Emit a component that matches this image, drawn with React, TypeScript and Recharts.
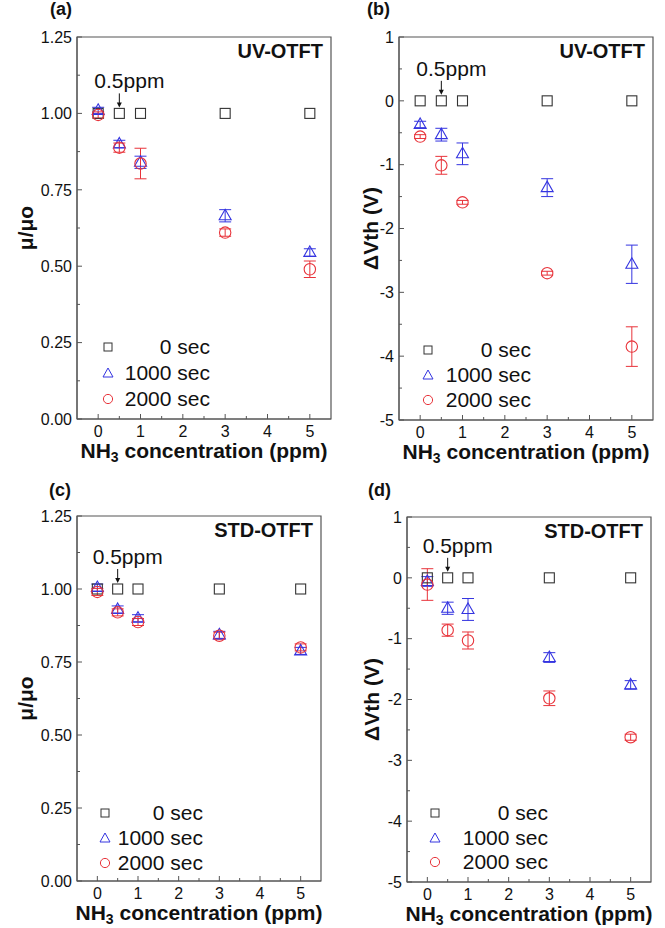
import React from "react";
import { ScatterChart, Scatter, XAxis, YAxis, ErrorBar, ReferenceArea, ReferenceDot, Legend } from "recharts";

const FONT = "Arial, 'Liberation Sans', sans-serif";
const GRAY = "#555";
const SQ = "#333";
const BLUE = "#3434e0";
const RED = "#e8333a";

const concentrations = [0, 0.5, 1, 3, 5];
const seriesNames = ["0 sec", "1000 sec", "2000 sec"];
const xMajor = [0, 1, 2, 3, 4, 5];
const xMinor = [0.5, 1.5, 2.5, 3.5, 4.5];
const muMajor = [0, 0.25, 0.5, 0.75, 1, 1.25];
const muMinor = [0.125, 0.375, 0.625, 0.875, 1.125];
const vthMajor = [-5, -4, -3, -2, -1, 0, 1];
const vthMinor = [-4.5, -3.5, -2.5, -1.5, -0.5, 0.5];

// (a) UV-OTFT, mobility ratio
const uvMu0 = [1, 1, 1, 1, 1];
const uvMu1000 = [1.01, 0.9, 0.84, 0.665, 0.545];
const uvMu1000Err = [0.01, 0.012, 0.02, 0.02, 0.012];
const uvMu2000 = [0.995, 0.888, 0.836, 0.61, 0.49];
const uvMu2000Err = [0.01, 0.015, 0.05, 0.012, 0.027];

// (b) UV-OTFT, threshold shift
const uvVth0 = [0, 0, 0, 0, 0];
const uvVth1000 = [-0.37, -0.53, -0.83, -1.36, -2.56];
const uvVth1000Err = [0.05, 0.1, 0.17, 0.14, 0.3];
const uvVth2000 = [-0.56, -1.01, -1.59, -2.7, -3.85];
const uvVth2000Err = [0.03, 0.14, 0.03, 0.03, 0.31];

// (c) STD-OTFT, mobility ratio
const stdMu0 = [1, 1, 1, 1, 1];
const stdMu1000 = [1.005, 0.93, 0.9, 0.843, 0.788];
const stdMu1000Err = [0.012, 0.012, 0.012, 0.012, 0.012];
const stdMu2000 = [0.99, 0.92, 0.887, 0.84, 0.8];
const stdMu2000Err = [0.012, 0.012, 0.012, 0.012, 0.012];

// (d) STD-OTFT, threshold shift
const stdVth0 = [0, 0, 0, 0, 0];
const stdVth1000 = [-0.06, -0.5, -0.52, -1.31, -1.76];
const stdVth1000Err = [0.08, 0.1, 0.18, 0.08, 0.07];
const stdVth2000 = [-0.11, -0.86, -1.03, -1.98, -2.62];
const stdVth2000Err = [0.26, 0.1, 0.14, 0.12, 0.05];

const rows = (ys: number[], errs?: number[]) =>
  concentrations.map((x, i) => ({ x, y: ys[i], e: errs ? errs[i] : 0 }));

const Square = (p: any) => (
  <rect x={p.cx - 5} y={p.cy - 5} width={10} height={10} fill="none" stroke={SQ} strokeWidth={1.1} />
);
const Triangle = (p: any) => (
  <path d={`M${p.cx},${p.cy - 6.5}L${p.cx + 6},${p.cy + 4}L${p.cx - 6},${p.cy + 4}Z`} fill="none" stroke={BLUE} strokeWidth={1.1} />
);
const Circle = (p: any) => (
  <circle cx={p.cx} cy={p.cy} r={5.7} fill="none" stroke={RED} strokeWidth={1.1} />
);

const legendIcon = (i: number) => {
  if (i === 0) return <rect x={4} y={4} width={8} height={8} fill="none" stroke={SQ} />;
  if (i === 1) return <path d="M8,3L13,12L3,12Z" fill="none" stroke={BLUE} />;
  return <circle cx={8} cy={8} r={4.6} fill="none" stroke={RED} />;
};

const ppmMark = (p: any) => (
  <g>
    <text x={p.cx - 25} y={p.cy - 25} fontSize={21} fontFamily={FONT} fill="#111">0.5ppm</text>
    <line x1={p.cx} y1={p.cy - 20} x2={p.cx} y2={p.cy - 10} stroke="#111" strokeWidth={1} />
    <path d={`M${p.cx - 2.5},${p.cy - 11}L${p.cx + 2.5},${p.cy - 11}L${p.cx},${p.cy - 6}Z`} fill="#111" />
  </g>
);

const xTitle = (p: any) => {
  const vb = p.viewBox;
  return (
    <text x={vb.x + vb.width / 2} y={vb.y + 39} textAnchor="middle" fontSize={21} fontWeight="bold" fontFamily={FONT} fill="#111">
      NH<tspan dy={4} fontSize={14}>3</tspan>
      <tspan dy={-4}> concentration (ppm)</tspan>
    </text>
  );
};

type PanelProps = {
  left: number;
  top: number;
  width: number;
  height: number;
  margin: { top: number; right: number; bottom: number; left: number };
  yWidth: number;
  tag: string;
  tagPos: { left: number; top: number };
  device: string;
  yLabel: string;
  yLabelDx: number;
  yDomain: [number, number];
  yMajor: number[];
  yMinor: number[];
  fmt: (v: number) => string;
  s0: number[];
  s1: number[];
  s1Err: number[];
  s2: number[];
  s2Err: number[];
  ppmY: number;
  legend: { left: number; top: number; textWidth: number; row: number };
};

function Panel(props: PanelProps) {
  const majorSet = new Set(props.yMajor);
  const yTicks = [...props.yMajor, ...props.yMinor].sort((a, b) => a - b);
  const xTicks = [...xMajor, ...xMinor].sort((a, b) => a - b);

  const xTick = (p: any) => {
    const v = p.payload.value;
    const major = Number.isInteger(v);
    return (
      <g>
        <line x1={p.x} y1={p.y} x2={p.x} y2={p.y - (major ? 5 : 3)} stroke={GRAY} />
        {major && (
          <text x={p.x} y={p.y + 18} textAnchor="middle" fontSize={16} fontFamily={FONT} fill="#111">
            {v}
          </text>
        )}
      </g>
    );
  };

  const yTick = (p: any) => {
    const v = p.payload.value;
    const major = majorSet.has(v);
    return (
      <g>
        <line x1={p.x} y1={p.y} x2={p.x + (major ? 5 : 3)} y2={p.y} stroke={GRAY} />
        {major && (
          <text x={p.x - 5} y={p.y + 5.7} textAnchor="end" fontSize={16} fontFamily={FONT} fill="#111">
            {props.fmt(v)}
          </text>
        )}
      </g>
    );
  };

  const yTitle = (p: any) => {
    const vb = p.viewBox;
    const cx = vb.x + vb.width + props.yLabelDx;
    const cy = vb.y + vb.height / 2;
    return (
      <text x={cx} y={cy} transform={`rotate(-90, ${cx}, ${cy})`} textAnchor="middle" dominantBaseline="central" fontSize={21} fontWeight="bold" fontFamily={FONT} fill="#111">
        {props.yLabel}
      </text>
    );
  };

  const deviceLabel = (p: any) => {
    const vb = p.viewBox;
    return (
      <text x={vb.x + vb.width - 8} y={vb.y + 21} textAnchor="end" fontSize={20} fontWeight="bold" fontFamily={FONT} fill="#111">
        {props.device}
      </text>
    );
  };

  const lg = props.legend;
  const legendContent = () => (
    <div style={{ fontFamily: FONT, fontSize: 21, color: "#111" }}>
      {seriesNames.map((n, i) => (
        <div key={n} style={{ display: "flex", alignItems: "center", height: lg.row }}>
          <svg width={16} height={16} style={{ display: "block" }}>{legendIcon(i)}</svg>
          <div style={{ width: lg.textWidth, textAlign: "right", lineHeight: `${lg.row}px` }}>{n}</div>
        </div>
      ))}
    </div>
  );

  return (
    <div style={{ position: "absolute", left: props.left, top: props.top, width: props.width, height: props.height }}>
      <ScatterChart width={props.width} height={props.height} margin={props.margin}>
        <XAxis
          type="number"
          dataKey="x"
          domain={[-0.5, 5.5]}
          ticks={xTicks}
          interval={0}
          tickSize={0}
          tickMargin={0}
          tickLine={false}
          axisLine={{ stroke: GRAY }}
          tick={xTick}
          height={30}
          allowDataOverflow
          label={{ content: xTitle }}
        />
        <YAxis
          type="number"
          dataKey="y"
          domain={props.yDomain}
          ticks={yTicks}
          interval={0}
          tickSize={0}
          tickMargin={0}
          tickLine={false}
          axisLine={{ stroke: GRAY }}
          tick={yTick}
          width={props.yWidth}
          allowDataOverflow
          label={{ content: yTitle }}
        />
        <ReferenceArea
          x1={-0.5}
          x2={5.5}
          y1={props.yDomain[0]}
          y2={props.yDomain[1]}
          fill="none"
          stroke={GRAY}
          strokeWidth={1.2}
          label={{ content: deviceLabel }}
        />
        <Scatter name={seriesNames[0]} data={rows(props.s0)} shape={Square} isAnimationActive={false} />
        <Scatter name={seriesNames[1]} data={rows(props.s1, props.s1Err)} shape={Triangle} isAnimationActive={false}>
          <ErrorBar dataKey="e" direction="y" width={6} stroke={BLUE} strokeWidth={1} />
        </Scatter>
        <Scatter name={seriesNames[2]} data={rows(props.s2, props.s2Err)} shape={Circle} isAnimationActive={false}>
          <ErrorBar dataKey="e" direction="y" width={6} stroke={RED} strokeWidth={1} />
        </Scatter>
        <ReferenceDot x={0.5} y={props.ppmY} r={0} shape={ppmMark} />
        <Legend
          layout="horizontal"
          verticalAlign="middle"
          align="center"
          content={legendContent}
          wrapperStyle={{ left: lg.left, top: lg.top, width: "auto", height: "auto" }}
        />
      </ScatterChart>
      <div style={{ position: "absolute", left: props.tagPos.left, top: props.tagPos.top, fontFamily: FONT, fontWeight: "bold", fontSize: 18, lineHeight: "18px", color: "#111" }}>
        {props.tag}
      </div>
    </div>
  );
}

const fmtMu = (v: number) => v.toFixed(2);
const fmtVth = (v: number) => String(v);

export default function App() {
  return (
    <div style={{ position: "absolute", left: 0, top: 0, width: 665, height: 928, background: "#fff", fontFamily: FONT }}>
      <Panel
        left={0} top={0} width={340} height={472}
        margin={{ top: 37, right: 9, bottom: 23, left: 8 }} yWidth={69}
        tag="(a)" tagPos={{ left: 50, top: 0 }} device="UV-OTFT"
        yLabel="μ/μo" yLabelDx={-52} yDomain={[0, 1.25]} yMajor={muMajor} yMinor={muMinor} fmt={fmtMu}
        s0={uvMu0} s1={uvMu1000} s1Err={uvMu1000Err} s2={uvMu2000} s2Err={uvMu2000Err} ppmY={1}
        legend={{ left: 100, top: 334, textWidth: 94, row: 26 }}
      />
      <Panel
        left={340} top={0} width={325} height={472}
        margin={{ top: 37, right: 12, bottom: 22, left: 8 }} yWidth={51}
        tag="(b)" tagPos={{ left: 27, top: 0 }} device="UV-OTFT"
        yLabel="ΔVth (V)" yLabelDx={-29} yDomain={[-5, 1]} yMajor={vthMajor} yMinor={vthMinor} fmt={fmtVth}
        s0={uvVth0} s1={uvVth1000} s1Err={uvVth1000Err} s2={uvVth2000} s2Err={uvVth2000Err} ppmY={0}
        legend={{ left: 80, top: 337, textWidth: 95, row: 25 }}
      />
      <Panel
        left={0} top={465} width={340} height={463}
        margin={{ top: 51, right: 19, bottom: 17, left: 8 }} yWidth={69}
        tag="(c)" tagPos={{ left: 49, top: 16 }} device="STD-OTFT"
        yLabel="μ/μo" yLabelDx={-52} yDomain={[0, 1.25]} yMajor={muMajor} yMinor={muMinor} fmt={fmtMu}
        s0={stdMu0} s1={stdMu1000} s1Err={stdMu1000Err} s2={stdMu2000} s2Err={stdMu2000Err} ppmY={1}
        legend={{ left: 97, top: 335, textWidth: 90, row: 25 }}
      />
      <Panel
        left={340} top={465} width={325} height={463}
        margin={{ top: 52, right: 14, bottom: 16, left: 8 }} yWidth={59}
        tag="(d)" tagPos={{ left: 28, top: 16 }} device="STD-OTFT"
        yLabel="ΔVth (V)" yLabelDx={-36} yDomain={[-5, 1]} yMajor={vthMajor} yMinor={vthMinor} fmt={fmtVth}
        s0={stdVth0} s1={stdVth1000} s1Err={stdVth1000Err} s2={stdVth2000} s2Err={stdVth2000Err} ppmY={0}
        legend={{ left: 87, top: 336, textWidth: 105, row: 24.5 }}
      />
    </div>
  );
}
